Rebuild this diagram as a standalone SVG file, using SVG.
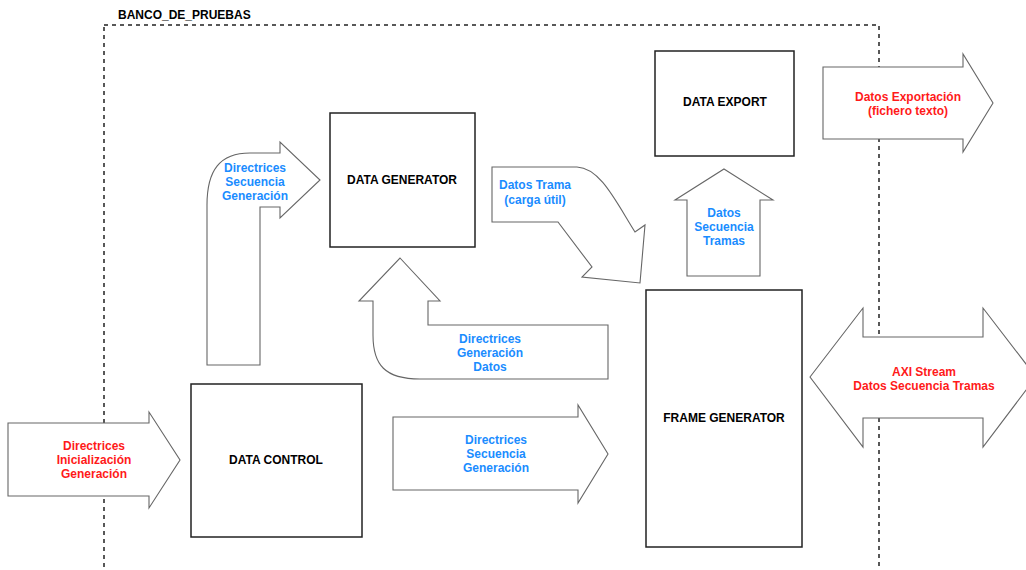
<svg xmlns="http://www.w3.org/2000/svg" width="1026" height="570" viewBox="0 0 1026 570">
<style>
.box{fill:#fff;stroke:#222;stroke-width:1.5}
.arr{fill:#fff;stroke:#666;stroke-width:1.1;stroke-linejoin:miter}
.t{font-family:"Liberation Sans",Arial,sans-serif;font-weight:bold;font-size:12px;text-anchor:middle}
.k{fill:#000}
.b{fill:#1a8cff}
.r{fill:#ff1a1a}
</style>
<rect width="1026" height="570" fill="#fff"/>
<g id="container">
<rect x="104" y="25" width="775" height="560" fill="none" stroke="#222" stroke-width="1.5" stroke-dasharray="4 4"/>
<text class="t k" x="118" y="19" style="text-anchor:start">BANCO_DE_PRUEBAS</text>
</g>
<g id="connectors">
<g id="arrow-left-in">
<path class="arr" d="M8,423 L149,423 L149,412 L180,460 L149,508 L149,496 L8,496 Z"/>
<text class="t r" x="94" y="449.5">Directrices</text>
<text class="t r" x="94" y="464">Inicialización</text>
<text class="t r" x="94" y="478">Generación</text>
</g>
<g id="arrow-bent-up">
<path class="arr" d="M207,365 L207,205 C207,170 220,153 250,153 L280,153 L280,142 L320,180 L280,218 L280,207 L260,207 L260,365 Z"/>
<text class="t b" x="255" y="172">Directrices</text>
<text class="t b" x="255" y="186">Secuencia</text>
<text class="t b" x="255" y="200">Generación</text>
</g>
<g id="arrow-trama">
<path class="arr" d="M492,167 L577,167 C600,168 615,200 635,232 L645,225 L640,283 L582,277 L592,267 L558,222 L492,222 Z"/>
<text class="t b" x="535" y="189">Datos Trama</text>
<text class="t b" x="535" y="203.5">(carga útil)</text>
</g>
<g id="arrow-gen-datos">
<path class="arr" d="M400,258 L440,301 L428,301 L428,325 L608,325 L608,379 L420,379 C385,379 373,365 373,335 L373,301 L359,301 Z"/>
<text class="t b" x="490" y="343">Directrices</text>
<text class="t b" x="490" y="357">Generación</text>
<text class="t b" x="490" y="371">Datos</text>
</g>
<g id="arrow-seq-right">
<path class="arr" d="M393,417 L578,417 L578,405 L608,454 L578,503 L578,490 L393,490 Z"/>
<text class="t b" x="496" y="444">Directrices</text>
<text class="t b" x="496" y="458">Secuencia</text>
<text class="t b" x="496" y="472">Generación</text>
</g>
<g id="arrow-up-tramas">
<path class="arr" d="M724,169 L773,200 L760,200 L760,276 L687,276 L687,200 L675,200 Z"/>
<text class="t b" x="724" y="217">Datos</text>
<text class="t b" x="724" y="231">Secuencia</text>
<text class="t b" x="724" y="245">Tramas</text>
</g>
<g id="arrow-export">
<path class="arr" d="M823,67 L963,67 L963,54 L993,103 L963,152 L963,139 L823,139 Z"/>
<text class="t r" x="908" y="101">Datos Exportación</text>
<text class="t r" x="908" y="115">(fichero texto)</text>
</g>
<g id="arrow-axi">
<path class="arr" d="M810,377 L863,308 L863,337 L983,337 L983,308 L1036,377 L983,447 L983,418 L863,418 L863,447 Z"/>
<text class="t r" x="924" y="375.5">AXI Stream</text>
<text class="t r" x="924" y="389.5">Datos Secuencia Tramas</text>
</g>
</g>
<g id="data-generator">
<rect class="box" x="330" y="113" width="145" height="134"/>
<text class="t k" x="402" y="184">DATA GENERATOR</text>
</g>
<g id="data-export">
<rect class="box" x="655" y="51" width="139" height="105"/>
<text class="t k" x="725" y="106">DATA EXPORT</text>
</g>
<g id="frame-generator">
<rect class="box" x="646" y="290" width="156" height="257"/>
<text class="t k" x="724" y="422">FRAME GENERATOR</text>
</g>
<g id="data-control">
<rect class="box" x="191" y="384" width="171" height="153"/>
<text class="t k" x="276" y="464">DATA CONTROL</text>
</g>
</svg>
